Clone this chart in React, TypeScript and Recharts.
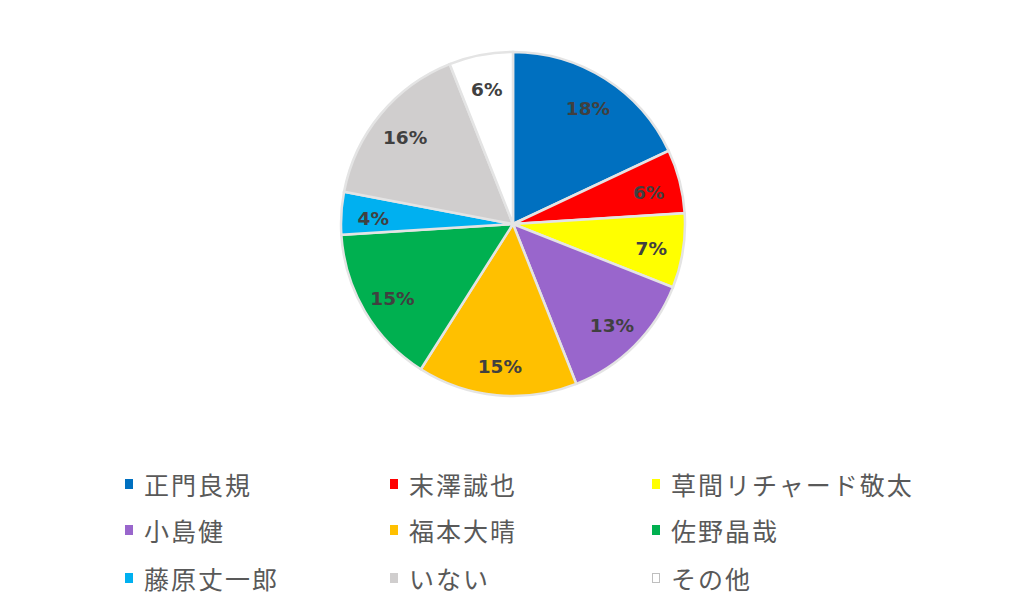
import React from "react";
import { Cell, Legend, Pie, PieChart } from "recharts";

const names = ["正門良規", "末澤誠也", "草間リチャード敬太", "小島健", "福本大晴", "佐野晶哉", "藤原丈一郎", "いない", "その他"];
const shares = [18, 6, 7, 13, 15, 15, 4, 16, 6];
const colors = ["#0070c0", "#ff0000", "#ffff00", "#9966cc", "#ffc000", "#00b050", "#00b0f0", "#d0cece", "#ffffff"];

const data = names.map((name, i) => ({ name, value: shares[i] }));

const RAD = Math.PI / 180;

function renderLabel(props: any) {
  const { cx, cy, midAngle, value } = props;
  const r = 140;
  const x = cx + r * Math.cos(-midAngle * RAD);
  const y = cy + r * Math.sin(-midAngle * RAD) + 3;
  return (
    <text
      x={x}
      y={y}
      textAnchor="middle"
      dominantBaseline="central"
      fill="#404040"
      fontFamily="'DejaVu Sans', sans-serif"
      fontWeight="bold"
      fontSize={18.5}
    >
      {value}%
    </text>
  );
}

function LegendGrid() {
  const colX = [125, 390, 652];
  const rowY = [484, 530, 578];
  return (
    <div style={{ position: "relative", width: 1024, height: 140 }}>
      {names.map((name, i) => (
        <div
          key={name}
          style={{
            position: "absolute",
            left: colX[i % 3],
            top: rowY[Math.floor(i / 3)] - 466,
            display: "flex",
            alignItems: "center",
            height: 36,
            transform: "translateY(-18px)",
          }}
        >
          <span
            style={{
              display: "inline-block",
              width: 8,
              height: 10,
              background: colors[i],
              border: i === 8 ? "1px solid #bfbfbf" : "none",
              boxSizing: "border-box",
              marginRight: 11,
            }}
          />
          <span
            style={{
              fontFamily: "'Noto Sans CJK JP', sans-serif",
              fontSize: 25,
              letterSpacing: 2,
              color: "#595959",
              whiteSpace: "nowrap",
              lineHeight: "36px",
            }}
          >
            {name}
          </span>
        </div>
      ))}
    </div>
  );
}

export default function App() {
  return (
    <div style={{ position: "absolute", left: 0, top: 0, width: 1024, height: 612, background: "#ffffff" }}>
      <PieChart width={1024} height={612} margin={{ top: 0, right: 0, bottom: 0, left: 0 }}>
        <Pie
          data={data}
          dataKey="value"
          nameKey="name"
          cx={513}
          cy={224}
          outerRadius={172}
          startAngle={90}
          endAngle={-270}
          stroke="#e4e4e4"
          strokeWidth={2.5}
          label={renderLabel}
          labelLine={false}
          isAnimationActive={false}
        >
          {data.map((d, i) => (
            <Cell key={d.name} fill={colors[i]} />
          ))}
        </Pie>
        <Legend
          content={() => <LegendGrid />}
          wrapperStyle={{ position: "absolute", left: 0, top: 466, width: 1024, height: 140 }}
        />
      </PieChart>
    </div>
  );
}
